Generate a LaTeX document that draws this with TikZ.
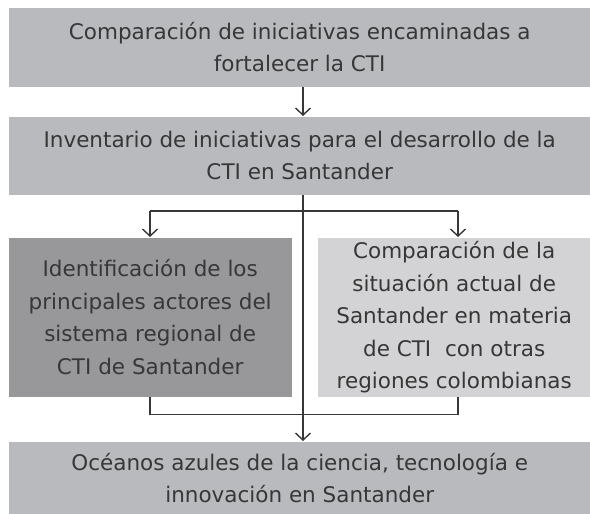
\documentclass[tikz,border=0pt]{standalone}
\usepackage{fontspec}
\setmainfont{DejaVu Sans}
\usepackage{tikz}
\usetikzlibrary{arrows.meta}
\definecolor{midgray}{RGB}{185,186,189}
\definecolor{darkgray}{RGB}{152,152,155}
\definecolor{lightgray}{RGB}{211,211,213}
\definecolor{inkgray}{RGB}{55,55,55}

\begin{document}
\begin{tikzpicture}[x=1pt,y=1pt,>={Straight Barb[length=7pt,width=15pt]},line width=1.4pt,draw=inkgray]
  \tikzstyle{box}=[anchor=north west, inner sep=0pt, align=center, text=inkgray,
    font=\fontsize{21.5}{32.5}\selectfont]
  \useasboundingbox (0,0) rectangle (590,514);
  \node[box, fill=midgray, minimum width=582, minimum height=79] (1) at (8,507)
    {Comparación de iniciativas encaminadas a\\fortalecer la CTI};
  \node[box, fill=midgray, minimum width=582, minimum height=78] (2) at (8,398)
    {Inventario de iniciativas para el desarrollo de la\\CTI en Santander};
  \node[box, fill=darkgray, minimum width=283, minimum height=159] (3) at (8,277)
    {Identificación de los\\principales actores del\\sistema regional de\\CTI de Santander};
  \node[box, fill=lightgray, minimum width=273, minimum height=159] (4) at (317,277)
    {Comparación de la\\situación actual de\\Santander en materia\\de CTI~ con otras\\regiones colombianas};
  \node[box, fill=midgray, minimum width=582, minimum height=73] (5) at (8,73)
    {Océanos azules de la ciencia, tecnología e\\innovación en Santander};

  \coordinate (t) at (303,303);
  \coordinate (l) at (150,303);
  \coordinate (r) at (458,303);

  \draw[->] (1.south -| t) -- (2.north -| t);
  \draw[->] (2.south -| t) -- (5.north -| t);
  \draw[->] (l) -- (3.north -| l);
  \draw[->] (r) -- (4.north -| r);
  \draw (l) -- (r);
  \draw (3.south -| l) -- ++(0,-17) -| (4.south -| r);
\end{tikzpicture}
\end{document}
